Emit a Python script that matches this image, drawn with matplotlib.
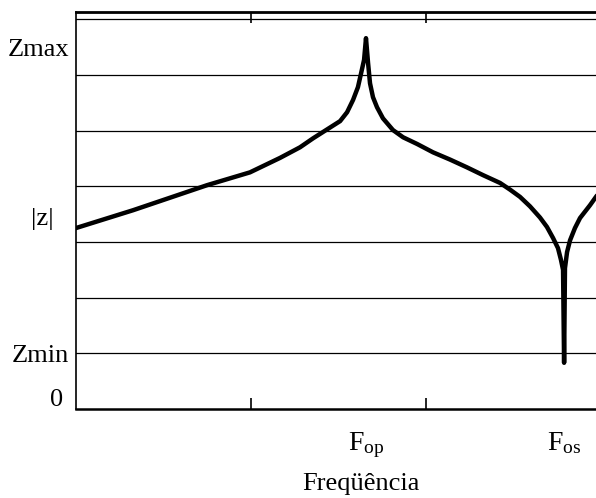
import numpy as np
import matplotlib.pyplot as plt
import matplotlib.transforms as mtransforms

plt.rcParams['font.family'] = ['Liberation Serif', 'DejaVu Serif']
plt.rcParams['mathtext.fontset'] = 'custom'
plt.rcParams['mathtext.rm'] = 'Liberation Serif'

# curva |Z| x frequencia (unidades arbitrarias)
freq = [0.000, 0.326, 0.749, 0.994, 1.166, 1.280, 1.354, 1.434, 1.509, 1.549,
        1.583, 1.611, 1.629, 1.646, 1.657, 1.669, 1.680, 1.697, 1.720, 1.754,
        1.811, 1.869, 1.949, 2.040, 2.137, 2.234, 2.326, 2.423, 2.480, 2.537,
        2.594, 2.651, 2.691, 2.726, 2.754, 2.771, 2.783, 2.789, 2.794, 2.806,
        2.823, 2.851, 2.880, 2.937, 2.971, 3.000]
imped = [3.25, 3.57, 4.02, 4.25, 4.51, 4.70, 4.86, 5.02, 5.17, 5.33,
         5.55, 5.78, 6.03, 6.27, 6.66, 6.21, 5.85, 5.60, 5.42, 5.22,
         5.01, 4.88, 4.76, 4.61, 4.48, 4.34, 4.20, 4.06, 3.94, 3.81,
         3.64, 3.44, 3.27, 3.07, 2.89, 2.68, 2.50, 0.83, 2.53, 2.82,
         3.03, 3.25, 3.43, 3.66, 3.81, 3.93]

grid_levels = [1, 2, 3, 4, 5, 6, 7]
ytick_pos = [0.2, 1.0, 3.45, 6.5]
ytick_labels = ['0', 'Zmin', '|z|', 'Zmax']
xtick_pos = [1, 2]
f_peak = freq[int(np.argmax(imped))]
f_dip = freq[int(np.argmin(imped))]

fig = plt.figure(figsize=(5.96, 4.98), dpi=100)
ax = fig.add_axes([0.1275, 0.1787, 0.9564, 0.7972])

for g in grid_levels:
    ax.axhline(g, color='black', linewidth=0.9, zorder=1)

ax.plot(freq, imped, color='black', linewidth=3.2, solid_joinstyle='round',
        solid_capstyle='round', zorder=3)

ax.set_xlim(0, 3.257)
ax.set_ylim(0, 7.13)

ax.set_xticks(xtick_pos)
ax.set_xticklabels([])
ax.tick_params(axis='x', direction='in', length=8, width=1.2, top=True, bottom=True)
ax.set_yticks(ytick_pos)
ax.set_yticklabels(ytick_labels, fontsize=19)
ax.tick_params(axis='y', length=0, pad=5)

# rotulos do eixo y nao ficam todos alinhados na figura original
shifts = {'0': -6, '|z|': -15}
for lab in ax.get_yticklabels():
    dx = shifts.get(lab.get_text(), 0)
    if dx:
        lab.set_transform(lab.get_transform() +
                          mtransforms.ScaledTranslation(dx / 100, 0, fig.dpi_scale_trans))

ax.spines['right'].set_visible(False)
ax.spines['top'].set_linewidth(2.0)
ax.spines['bottom'].set_linewidth(1.8)
ax.spines['left'].set_linewidth(1.2)

trans = mtransforms.blended_transform_factory(ax.transData, ax.transAxes)
ax.text(f_peak, -0.103, r'$\mathrm{F_{op}}$', transform=trans, ha='center',
        va='baseline', fontsize=20)
ax.text(f_dip, -0.103, r'$\mathrm{F_{os}}$', transform=trans, ha='center',
        va='baseline', fontsize=20)
ax.text(0.5, -0.204, 'Freqüência', transform=ax.transAxes, ha='center',
        va='baseline', fontsize=19)

fig.savefig('out.png', dpi=100)
